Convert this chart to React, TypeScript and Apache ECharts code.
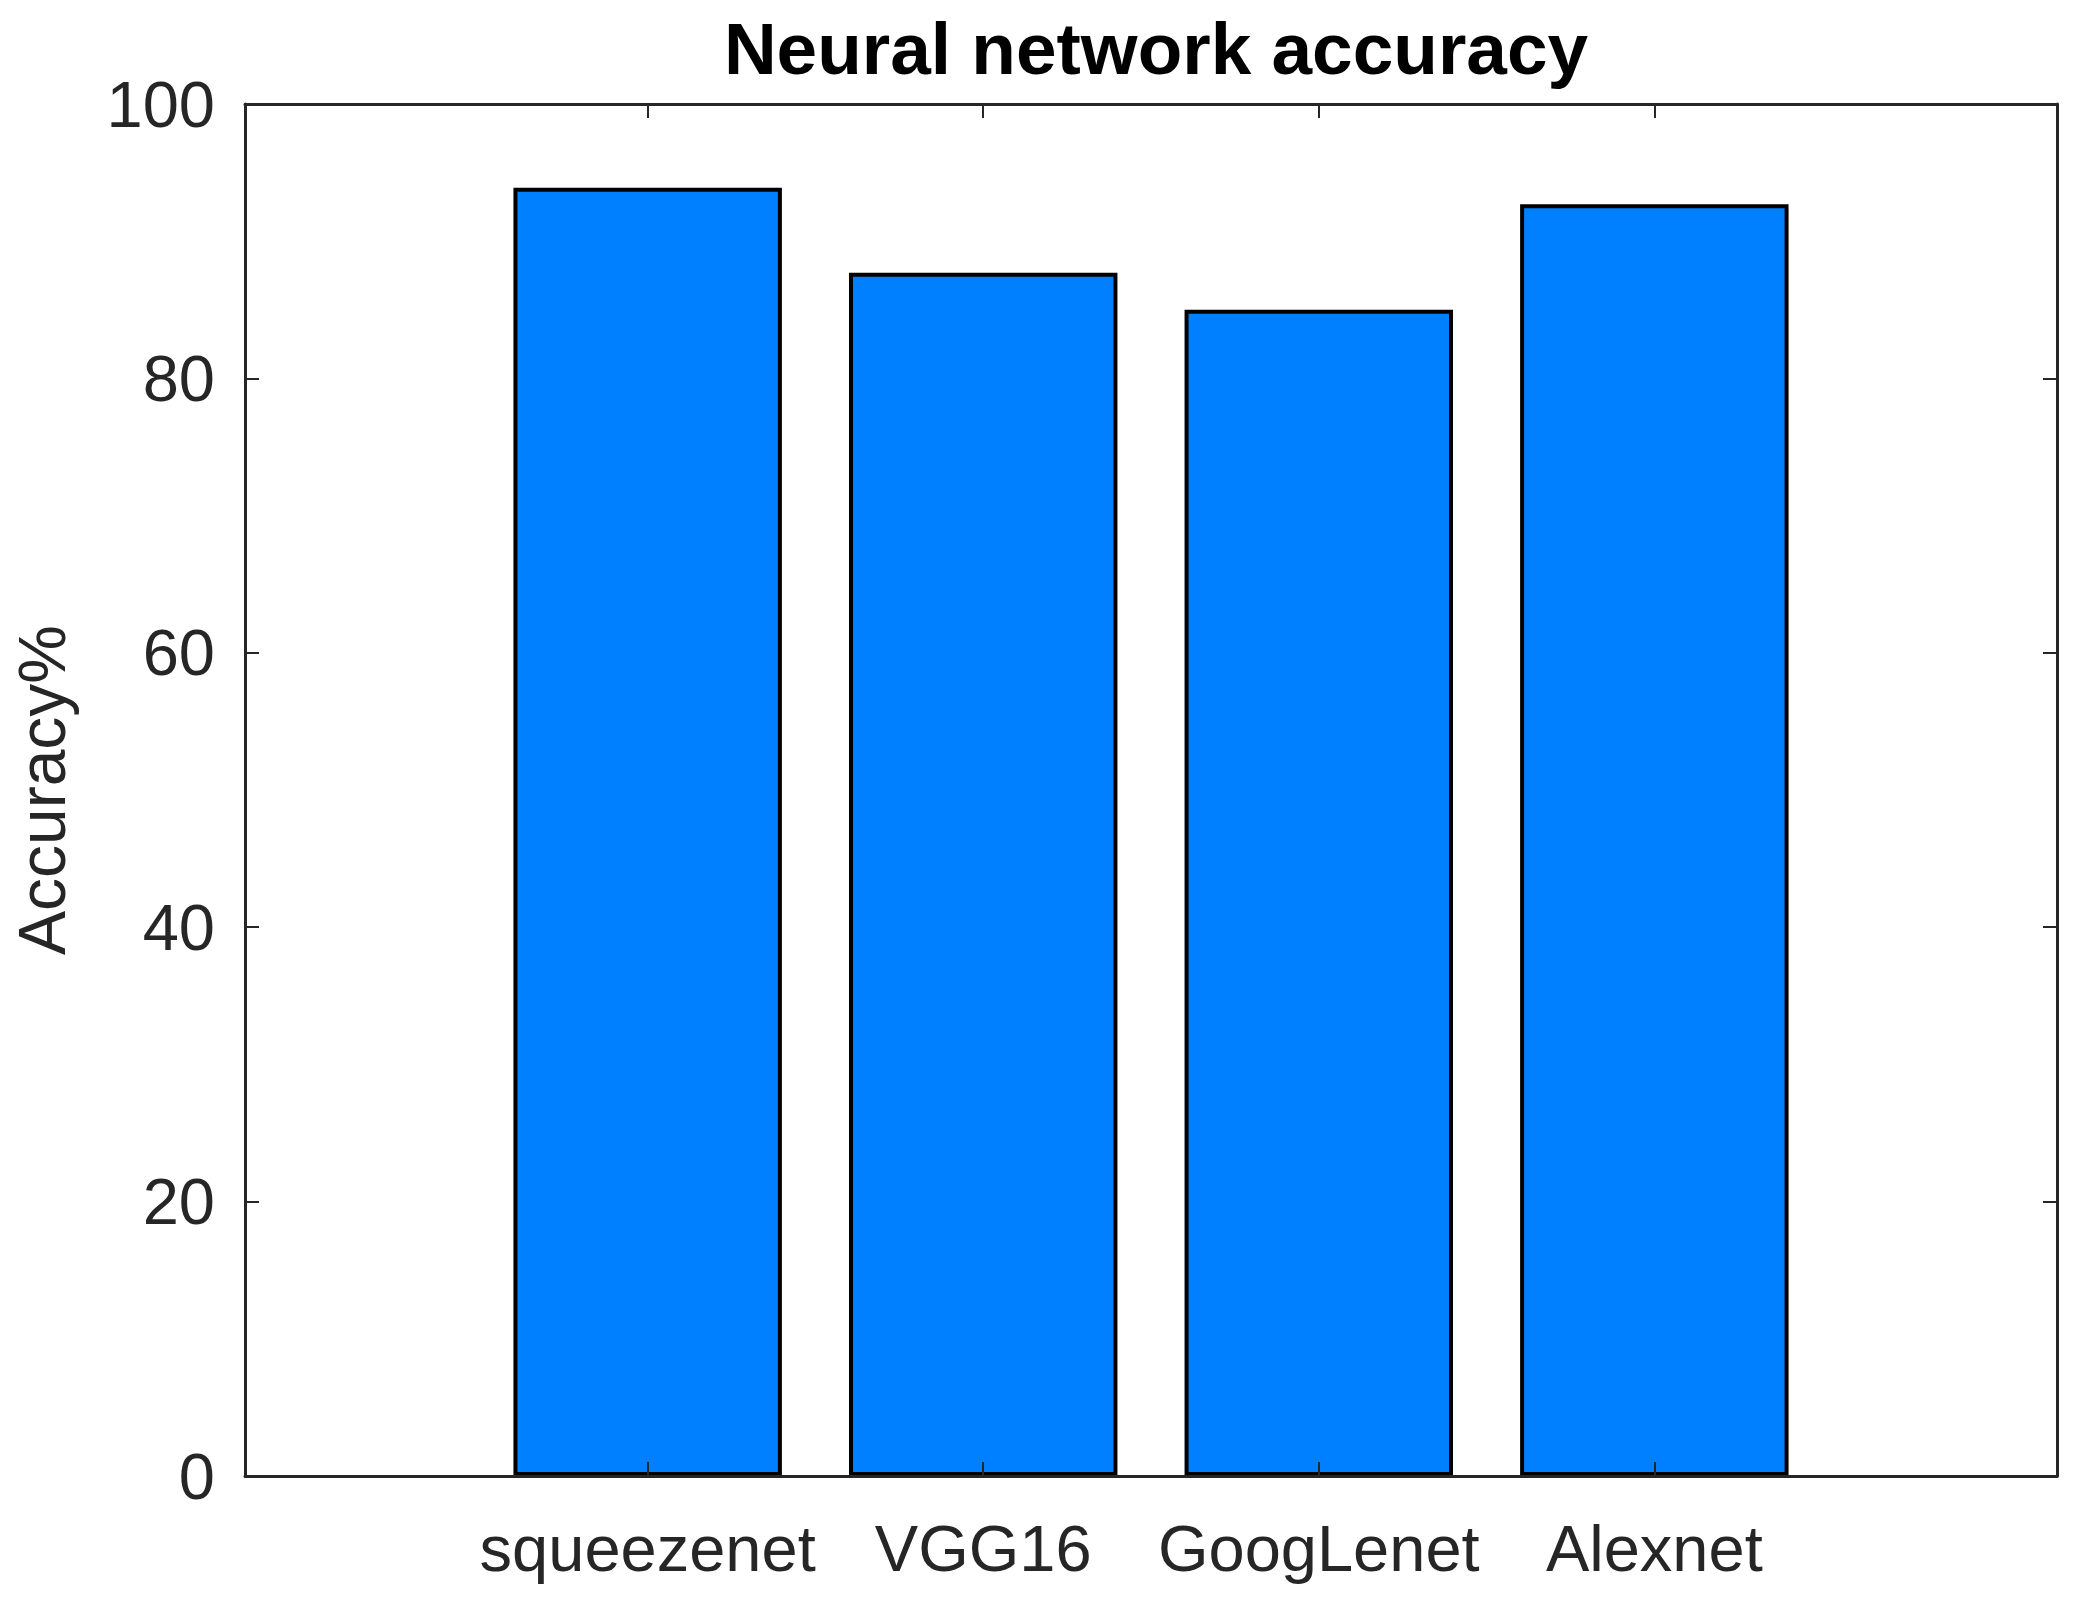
import React, { useEffect, useRef } from "react";
import * as echarts from "echarts";

const categories = ["squeezenet", "VGG16", "GoogLenet", "Alexnet"];
const positions = [1, 2, 3, 4];
const accuracy = [93.9, 87.7, 85.0, 92.7];
const yTicks = [0, 20, 40, 60, 80, 100];

const FONT = "'Liberation Sans', Arial, Helvetica, sans-serif";
const AXIS_COLOR = "#262626";

export default function App() {
  const ref = useRef<HTMLDivElement>(null);

  useEffect(() => {
    if (!ref.current) return;
    const chart = echarts.init(ref.current, undefined, { renderer: "svg" });
    const tickLen = 14;
    const lineStyle = { color: AXIS_COLOR, width: 3 };
    const option = {
      animation: false,
      backgroundColor: "#ffffff",
      title: {
        text: "Neural network accuracy",
        left: 1151,
        textAlign: "center",
        top: 7,
        textStyle: {
          fontFamily: FONT,
          fontWeight: "bold",
          fontSize: 73,
          color: "#000000",
        },
      },
      grid: { left: 245, right: 24, top: 104, bottom: 126, containLabel: false },
      xAxis: [
        {
          type: "value",
          position: "bottom",
          min: -0.2,
          max: 5.2,
          z: 5,
          axisLine: { show: true, onZero: false, lineStyle },
          axisTick: {
            show: true,
            inside: true,
            length: tickLen,
            customValues: positions,
            lineStyle: { color: AXIS_COLOR, width: 2 },
          },
          axisLabel: {
            show: true,
            customValues: positions,
            margin: 40,
            fontFamily: FONT,
            fontSize: 65,
            color: AXIS_COLOR,
            formatter: (v: number) => {
              const i = positions.indexOf(Math.round(v));
              return i >= 0 ? categories[i] : "";
            },
          },
          splitLine: { show: false },
        },
        {
          type: "value",
          position: "top",
          min: -0.2,
          max: 5.2,
          z: 5,
          axisLine: { show: true, onZero: false, lineStyle },
          axisTick: {
            show: true,
            inside: true,
            length: tickLen,
            customValues: positions,
            lineStyle: { color: AXIS_COLOR, width: 2 },
          },
          axisLabel: { show: false },
          splitLine: { show: false },
        },
      ],
      yAxis: [
        {
          type: "value",
          position: "left",
          min: 0,
          max: 100,
          interval: 20,
          z: 5,
          name: "Accuracy%",
          nameLocation: "middle",
          nameGap: 170,
          nameTextStyle: { fontFamily: FONT, fontSize: 66, color: AXIS_COLOR },
          axisLine: { show: true, onZero: false, lineStyle },
          axisTick: {
            show: true,
            inside: true,
            length: tickLen,
            customValues: yTicks,
            lineStyle: { color: AXIS_COLOR, width: 2 },
          },
          axisLabel: {
            margin: 30,
            fontFamily: FONT,
            fontSize: 65,
            color: AXIS_COLOR,
          },
          splitLine: { show: false },
        },
        {
          type: "value",
          position: "right",
          min: 0,
          max: 100,
          interval: 20,
          z: 5,
          axisLine: { show: true, onZero: false, lineStyle },
          axisTick: {
            show: true,
            inside: true,
            length: tickLen,
            lineStyle: { color: AXIS_COLOR, width: 2 },
          },
          axisLabel: { show: false },
          splitLine: { show: false },
        },
      ],
      series: [
        {
          type: "bar",
          xAxisIndex: 0,
          yAxisIndex: 0,
          barWidth: "80%",
          data: positions.map((p, i) => [p, accuracy[i]]),
          itemStyle: { color: "#0080FF", borderColor: "#000000", borderWidth: 4 },
        },
      ],
    };
    chart.setOption(option as any);
    return () => chart.dispose();
  }, []);

  return (
    <div
      ref={ref}
      style={{ position: "fixed", left: 0, top: 0, width: 2081, height: 1602, background: "#fff" }}
    />
  );
}
